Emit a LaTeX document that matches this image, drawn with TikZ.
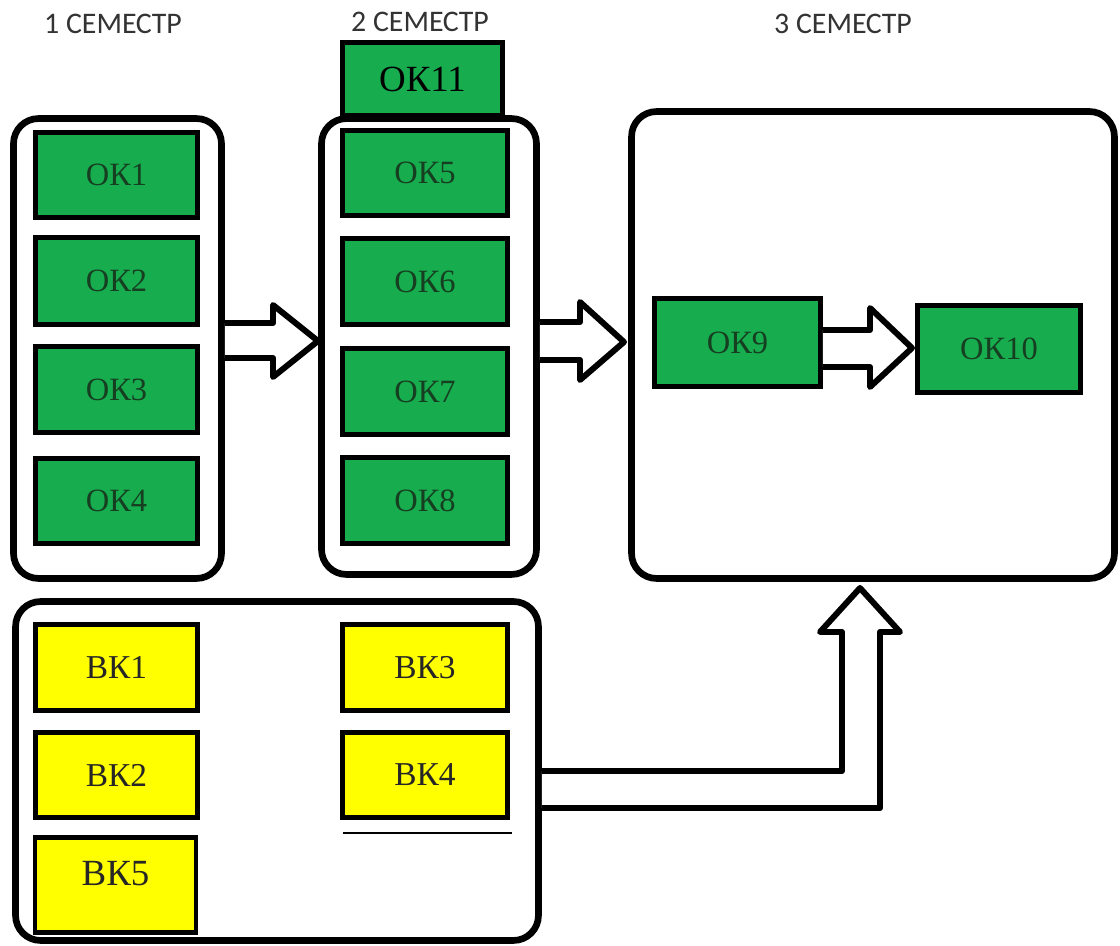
\documentclass[tikz,border=0pt]{standalone}
\usepackage{fontspec}
\setmainfont{Liberation Serif}
\newfontfamily\hdrfont{Carlito}
\definecolor{okgreen}{HTML}{17AD4E}
\definecolor{oktext}{HTML}{163F22}
\definecolor{bkyellow}{HTML}{FFFF00}
\definecolor{hdrgray}{HTML}{333333}
\begin{document}
\begin{tikzpicture}[x=0.02cm,y=-0.02cm,
  container/.style={draw=black,line width=3.8pt,rounded corners=0.5cm,fill=white,inner sep=0pt},
  okbox/.style={draw=black,line width=2.7pt,fill=okgreen,inner sep=0pt,text=oktext,font=\fontsize{18.5}{20}\selectfont},
  bkbox/.style={draw=black,line width=2.7pt,fill=bkyellow,inner sep=0pt,text=black!85,font=\fontsize{19}{21}\selectfont},
  hdr/.style={text=hdrgray,font=\hdrfont\fontsize{17}{19}\selectfont,inner sep=0pt},
  blockarrow/.style={draw=black,line width=3.4pt,fill=white,line join=round}]
\useasboundingbox (0,0) rectangle (1120,946);
% headers
\node[hdr] (h1) at (113,24) {1 СЕМЕСТР};
\node[hdr] (h2) at (420,22) {2 СЕМЕСТР};
\node[hdr] (h3) at (843,24) {3 СЕМЕСТР};
% containers
\node[container,minimum width=4.16cm,minimum height=9.2cm] (c1) at (117.5,348.5) {};
\node[container,minimum width=4.3cm,minimum height=9.12cm] (c2) at (429,346.5) {};
\node[container,minimum width=9.66cm,minimum height=9.34cm] (c3) at (873,345) {};
\node[container,minimum width=10.46cm,minimum height=6.78cm] (c4) at (277,771) {};
% semester 1
\node[okbox,minimum width=3.24cm,minimum height=1.7cm] (ok1) at (116.5,175) {ОК1};
\node[okbox,minimum width=3.24cm,minimum height=1.74cm] (ok2) at (116.5,281) {ОК2};
\node[okbox,minimum width=3.24cm,minimum height=1.72cm] (ok3) at (116.5,389.5) {ОК3};
\node[okbox,minimum width=3.24cm,minimum height=1.7cm] (ok4) at (116.5,501) {ОК4};
% semester 2
\node[okbox,minimum width=3.3cm,minimum height=1.7cm] (ok5) at (425,173) {ОК5};
\node[okbox,minimum width=3.3cm,minimum height=1.72cm] (ok6) at (425,281.5) {ОК6};
\node[okbox,minimum width=3.3cm,minimum height=1.72cm] (ok7) at (425,391.5) {ОК7};
\node[okbox,minimum width=3.3cm,minimum height=1.72cm] (ok8) at (425,500.5) {ОК8};
\node[okbox,text=black,font=\fontsize{21}{23}\selectfont,minimum width=3.2cm,minimum height=1.46cm] (ok11) at (422.5,79) {ОК11};
% semester 3
\node[okbox,minimum width=3.32cm,minimum height=1.76cm] (ok9) at (737.5,342.5) {ОК9};
\node[okbox,minimum width=3.26cm,minimum height=1.74cm] (ok10) at (999,349) {ОК10};
% elective
\node[bkbox,minimum width=3.24cm,minimum height=1.72cm] (bk1) at (116.5,667.5) {ВК1};
\node[bkbox,minimum width=3.24cm,minimum height=1.7cm] (bk2) at (116.5,775) {ВК2};
\node[bkbox,font=\fontsize{21}{23}\selectfont,minimum width=3.22cm,minimum height=1.9cm,text depth=0pt] (bk5) at (115.5,885) {\raisebox{0.45cm}{ВК5}};
\node[bkbox,minimum width=3.3cm,minimum height=1.72cm] (bk3) at (425,667.5) {ВК3};
\node[bkbox,minimum width=3.3cm,minimum height=1.7cm] (bk4) at (425,775) {ВК4};
\coordinate (ul1) at (343,833);
\coordinate (ul2) at (512,833);
\draw[line width=1.2pt] (ul1) -- (ul2);
% block arrows
\draw[blockarrow] (c1.east |- 0,323) -- (273,323) -- (273,305) -- (318,341) -- (273,377) -- (273,358) -- (c1.east |- 0,358);
\draw[blockarrow] (c2.east |- 0,322) -- (580,322) -- (580,302) -- (624,342) -- (580,380) -- (580,360) -- (c2.east |- 0,360);
\draw[blockarrow] (ok9.east |- 0,330) -- (870,330) -- (870,308) -- (912,348) -- (870,387) -- (870,367) -- (ok9.east |- 0,367);
\draw[blockarrow] (c4.east |- 0,771) -- (842,771) -- (842,632) -- (820,632) -- (860,588) -- (900,632) -- (880,632) -- (880,808) -- (c4.east |- 0,808);
\end{tikzpicture}
\end{document}
